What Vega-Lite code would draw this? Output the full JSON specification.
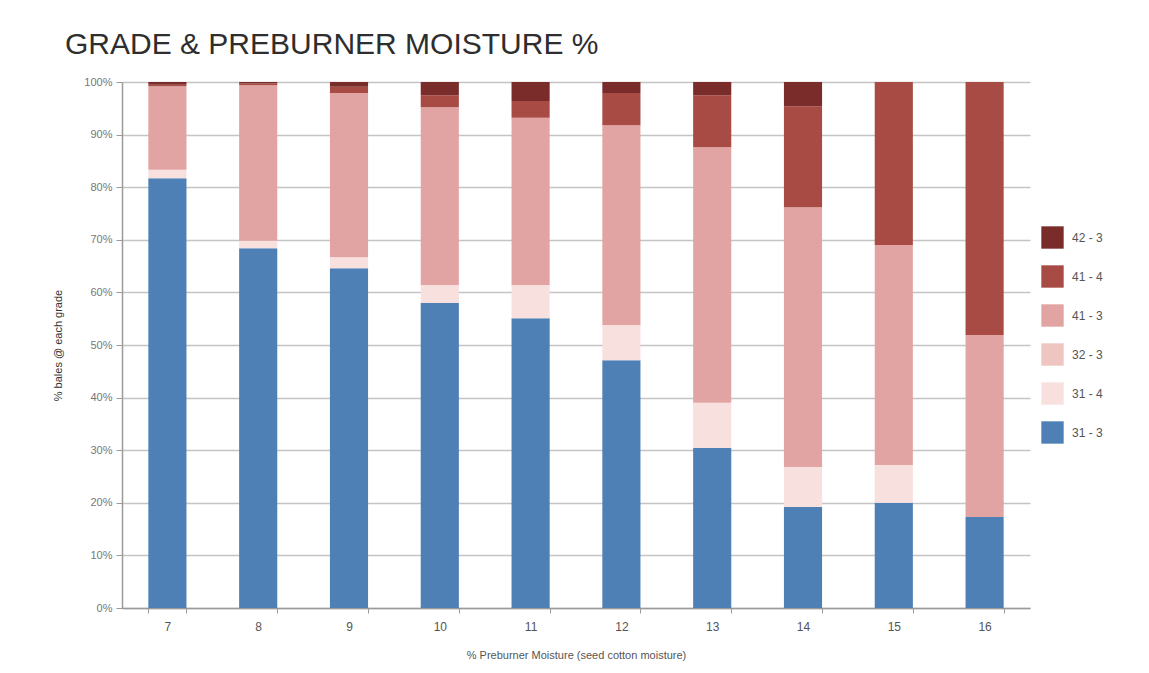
{
  "$schema": "https://vega.github.io/schema/vega-lite/v6.json",
  "width": 908,
  "height": 526,
  "autosize": {"type": "none"},
  "padding": {"left": 122, "top": 82, "right": 119, "bottom": 65},
  "background": "white",
  "title": {
    "text": "GRADE & PREBURNER MOISTURE %",
    "anchor": "start",
    "frame": "group",
    "dx": -57,
    "offset": 16,
    "font": "Liberation Sans",
    "fontSize": 30,
    "fontWeight": "normal",
    "color": "#2e2e2e"
  },
  "data": {
    "values": [
      {"moisture": "7", "grade": "31 - 3", "pct": 81.7},
      {"moisture": "7", "grade": "31 - 4", "pct": 1.6},
      {"moisture": "7", "grade": "32 - 3", "pct": 0},
      {"moisture": "7", "grade": "41 - 3", "pct": 15.9},
      {"moisture": "7", "grade": "41 - 4", "pct": 0.3},
      {"moisture": "7", "grade": "42 - 3", "pct": 0.5},
      {"moisture": "8", "grade": "31 - 3", "pct": 68.4},
      {"moisture": "8", "grade": "31 - 4", "pct": 1.4},
      {"moisture": "8", "grade": "32 - 3", "pct": 0},
      {"moisture": "8", "grade": "41 - 3", "pct": 29.6},
      {"moisture": "8", "grade": "41 - 4", "pct": 0.3},
      {"moisture": "8", "grade": "42 - 3", "pct": 0.3},
      {"moisture": "9", "grade": "31 - 3", "pct": 64.6},
      {"moisture": "9", "grade": "31 - 4", "pct": 2.1},
      {"moisture": "9", "grade": "32 - 3", "pct": 0},
      {"moisture": "9", "grade": "41 - 3", "pct": 31.2},
      {"moisture": "9", "grade": "41 - 4", "pct": 1.2},
      {"moisture": "9", "grade": "42 - 3", "pct": 0.9},
      {"moisture": "10", "grade": "31 - 3", "pct": 58.0},
      {"moisture": "10", "grade": "31 - 4", "pct": 3.4},
      {"moisture": "10", "grade": "32 - 3", "pct": 0},
      {"moisture": "10", "grade": "41 - 3", "pct": 33.8},
      {"moisture": "10", "grade": "41 - 4", "pct": 2.3},
      {"moisture": "10", "grade": "42 - 3", "pct": 2.5},
      {"moisture": "11", "grade": "31 - 3", "pct": 55.1},
      {"moisture": "11", "grade": "31 - 4", "pct": 6.3},
      {"moisture": "11", "grade": "32 - 3", "pct": 0},
      {"moisture": "11", "grade": "41 - 3", "pct": 31.8},
      {"moisture": "11", "grade": "41 - 4", "pct": 3.2},
      {"moisture": "11", "grade": "42 - 3", "pct": 3.6},
      {"moisture": "12", "grade": "31 - 3", "pct": 47.1},
      {"moisture": "12", "grade": "31 - 4", "pct": 6.7},
      {"moisture": "12", "grade": "32 - 3", "pct": 0},
      {"moisture": "12", "grade": "41 - 3", "pct": 38.0},
      {"moisture": "12", "grade": "41 - 4", "pct": 6.1},
      {"moisture": "12", "grade": "42 - 3", "pct": 2.1},
      {"moisture": "13", "grade": "31 - 3", "pct": 30.4},
      {"moisture": "13", "grade": "31 - 4", "pct": 8.6},
      {"moisture": "13", "grade": "32 - 3", "pct": 0},
      {"moisture": "13", "grade": "41 - 3", "pct": 48.6},
      {"moisture": "13", "grade": "41 - 4", "pct": 9.9},
      {"moisture": "13", "grade": "42 - 3", "pct": 2.5},
      {"moisture": "14", "grade": "31 - 3", "pct": 19.2},
      {"moisture": "14", "grade": "31 - 4", "pct": 7.6},
      {"moisture": "14", "grade": "32 - 3", "pct": 0},
      {"moisture": "14", "grade": "41 - 3", "pct": 49.4},
      {"moisture": "14", "grade": "41 - 4", "pct": 19.2},
      {"moisture": "14", "grade": "42 - 3", "pct": 4.6},
      {"moisture": "15", "grade": "31 - 3", "pct": 20.0},
      {"moisture": "15", "grade": "31 - 4", "pct": 7.2},
      {"moisture": "15", "grade": "32 - 3", "pct": 0},
      {"moisture": "15", "grade": "41 - 3", "pct": 41.8},
      {"moisture": "15", "grade": "41 - 4", "pct": 31.0},
      {"moisture": "15", "grade": "42 - 3", "pct": 0},
      {"moisture": "16", "grade": "31 - 3", "pct": 17.3},
      {"moisture": "16", "grade": "31 - 4", "pct": 0},
      {"moisture": "16", "grade": "32 - 3", "pct": 0},
      {"moisture": "16", "grade": "41 - 3", "pct": 34.6},
      {"moisture": "16", "grade": "41 - 4", "pct": 48.1},
      {"moisture": "16", "grade": "42 - 3", "pct": 0}
    ]
  },
  "mark": {"type": "bar"},
  "encoding": {
    "x": {
      "field": "moisture",
      "type": "ordinal",
      "sort": ["7", "8", "9", "10", "11", "12", "13", "14", "15", "16"],
      "scale": {"paddingInner": 0.58, "paddingOuter": 0.29},
      "axis": {
        "title": "% Preburner Moisture (seed cotton moisture)",
        "labelAngle": 0,
        "tickBand": "extent",
        "tickSize": 5,
        "tickColor": "#9a9a9a",
        "domainColor": "#9a9a9a",
        "domainWidth": 1.5,
        "labelFont": "Liberation Sans",
        "labelFontSize": 12,
        "labelColor": "#555555",
        "labelPadding": 8,
        "titleFont": "Liberation Sans",
        "titleFontSize": 11,
        "titleFontWeight": "normal",
        "titleColor": "#555555",
        "titlePadding": 17
      }
    },
    "y": {
      "field": "pct",
      "type": "quantitative",
      "stack": "zero",
      "scale": {"domain": [0, 100], "nice": false},
      "axis": {
        "title": "% bales @ each grade",
        "values": [0, 10, 20, 30, 40, 50, 60, 70, 80, 90, 100],
        "labelExpr": "datum.value + '%'",
        "tickSize": 6,
        "tickColor": "#9a9a9a",
        "domainColor": "#9a9a9a",
        "domainWidth": 1.5,
        "gridColor": "#c4c4c4",
        "gridWidth": 1.5,
        "labelFont": "Liberation Sans",
        "labelFontSize": 11,
        "labelColor": "#777777",
        "labelPadding": 4,
        "titleFont": "Liberation Sans",
        "titleFontSize": 11,
        "titleFontWeight": "normal",
        "titleColor": "#333333",
        "titlePadding": 20
      }
    },
    "color": {
      "field": "grade",
      "type": "nominal",
      "scale": {
        "domain": ["42 - 3", "41 - 4", "41 - 3", "32 - 3", "31 - 4", "31 - 3"],
        "range": ["#7a2c2a", "#a84b44", "#e2a4a2", "#efc5c1", "#f8e0df", "#4e80b6"]
      },
      "legend": {
        "title": null,
        "orient": "none",
        "legendX": 919,
        "legendY": 144,
        "symbolType": "square",
        "symbolSize": 500,
        "symbolStrokeWidth": 0,
        "symbolOpacity": 1,
        "rowPadding": 16,
        "labelFont": "Liberation Sans",
        "labelFontSize": 12,
        "labelColor": "#555555",
        "labelOffset": 8,
        "padding": 0
      }
    },
    "order": {"field": "grade", "sort": "ascending"}
  },
  "config": {
    "view": {"stroke": null},
    "axisX": {"grid": false}
  }
}
